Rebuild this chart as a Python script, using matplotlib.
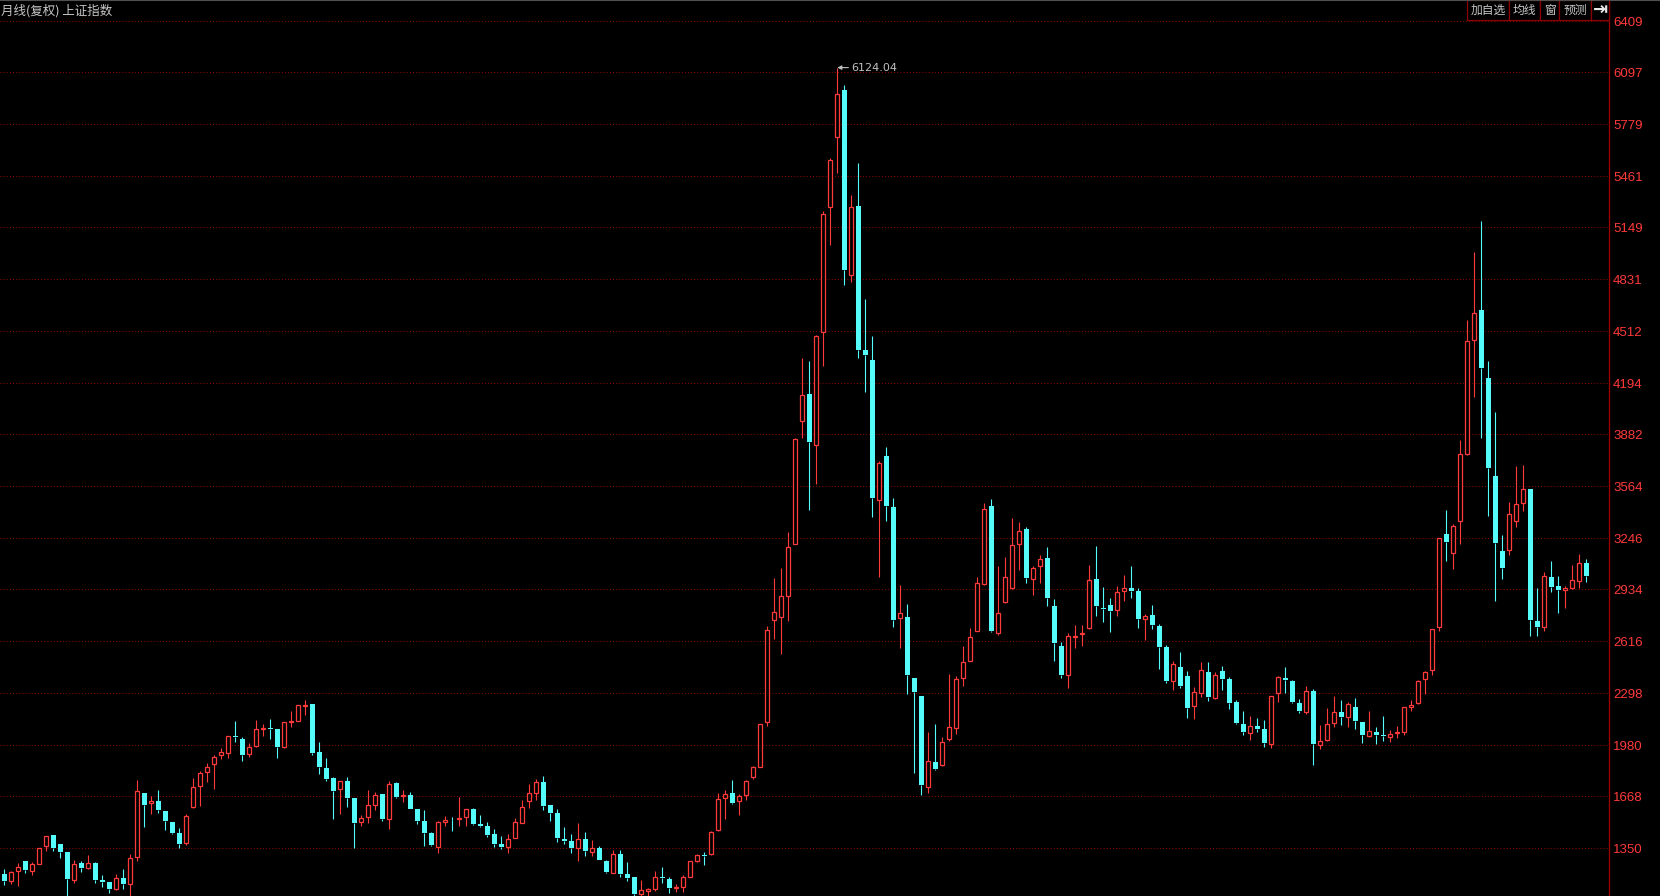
import matplotlib
matplotlib.use("Agg")
import matplotlib.pyplot as plt
from matplotlib.patches import Rectangle
import numpy as np

plt.rcParams['font.family'] = ['Noto Sans CJK SC', 'DejaVu Sans']

# 上证指数 月线, 1997-11 .. 2016-09
opens = [1193, 1152, 1213, 1272, 1213, 1256, 1366, 1431, 1376, 1327,
         1156, 1260, 1231, 1260, 1156, 1144, 1101, 1168, 1134, 1299,
         1688, 1625, 1637, 1578, 1511, 1443, 1384, 1605, 1733, 1815,
         1863, 1918, 1931, 2035, 2016, 1924, 1973, 2082, 2086, 2077,
         1971, 2122, 2130, 2222, 2232, 1939, 1841, 1780, 1711, 1762,
         1657, 1509, 1539, 1613, 1682, 1527, 1749, 1668, 1676, 1590,
         1517, 1443, 1360, 1513, 1525, 1527, 1539, 1590, 1499, 1486,
         1437, 1376, 1360, 1415, 1507, 1641, 1690, 1755, 1613, 1566,
         1407, 1395, 1352, 1407, 1329, 1352, 1272, 1201, 1315, 1193,
         1174, 1072, 1091, 1099, 1174, 1162, 1105, 1111, 1177, 1274,
         1311, 1313, 1460, 1656, 1686, 1637, 1674, 1784, 1849, 2120,
         2746, 2764, 2893, 3211, 3960, 4129, 3817, 4508, 5273, 5701,
         5989, 4857, 5280, 4400, 4339, 3478, 3750, 3437, 2756, 2764,
         2389, 2281, 1727, 1876, 1861, 2020, 2084, 2393, 2497, 2681,
         2964, 3443, 2664, 2854, 2944, 3209, 3301, 2995, 3074, 3123,
         2832, 2587, 2408, 2644, 2658, 2695, 2995, 2822, 2836, 2809,
         2921, 2942, 2923, 2750, 2777, 2709, 2581, 2375, 2459, 2404,
         2222, 2302, 2428, 2271, 2434, 2385, 2245, 2110, 2057, 2098,
         2080, 1990, 2302, 2391, 2373, 2239, 2186, 2312, 1980, 2014,
         2118, 2181, 2155, 2212, 2120, 2035, 2061, 2043, 2033, 2053,
         2063, 2212, 2237, 2383, 2438, 2705, 3272, 3158, 3349, 3763,
         4456, 4642, 4226, 3627, 3168, 3172, 3349, 3459, 3545, 2738,
         2701, 3007, 2952, 2932, 2944, 2987, 3093]
highs = [1223, 1211, 1260, 1274, 1268, 1352, 1427, 1433, 1378, 1329,
         1276, 1272, 1309, 1266, 1187, 1146, 1193, 1223, 1315, 1768,
         1690, 1670, 1706, 1580, 1513, 1472, 1558, 1780, 1821, 1870,
         1918, 1961, 2037, 2126, 2033, 1992, 2132, 2108, 2141, 2077,
         2120, 2188, 2226, 2257, 2234, 2000, 1902, 1786, 1761, 1786,
         1659, 1554, 1706, 1692, 1684, 1762, 1755, 1706, 1692, 1592,
         1584, 1448, 1517, 1547, 1541, 1664, 1590, 1596, 1554, 1511,
         1468, 1425, 1437, 1535, 1645, 1743, 1774, 1792, 1615, 1588,
         1480, 1437, 1505, 1450, 1401, 1364, 1278, 1339, 1339, 1266,
         1176, 1156, 1107, 1211, 1236, 1177, 1132, 1187, 1272, 1315,
         1327, 1454, 1686, 1705, 1768, 1680, 1768, 1853, 2110, 2709,
         3004, 3061, 3286, 3862, 4351, 4328, 4486, 5247, 5573, 6124.04,
         6020, 5348, 5540, 4707, 4484, 3721, 3801, 3492, 2960, 2844,
         2391, 2283, 2061, 2110, 2030, 2416, 2404, 2587, 2697, 3007,
         3461, 3486, 3076, 3131, 3370, 3345, 3313, 3076, 3142, 3192,
         2872, 2610, 2665, 2715, 2715, 3082, 3199, 2948, 2881, 2954,
         3021, 3076, 2942, 2783, 2838, 2720, 2593, 2495, 2550, 2434,
         2336, 2489, 2489, 2428, 2465, 2398, 2255, 2188, 2159, 2147,
         2133, 2281, 2404, 2459, 2379, 2263, 2342, 2324, 2104, 2208,
         2281, 2257, 2243, 2269, 2122, 2188, 2092, 2159, 2071, 2098,
         2214, 2257, 2379, 2434, 2691, 3247, 3419, 3333, 3847, 4581,
         4996, 5186, 4330, 4018, 3266, 3468, 3688, 3694, 3547, 2942,
         3040, 3107, 3015, 2954, 3082, 3150, 3119]
lows = [1128, 1134, 1121, 1199, 1187, 1254, 1335, 1333, 1293, 1043,
        1140, 1205, 1221, 1138, 1115, 1079, 1095, 1101, 1047, 1272,
        1482, 1562, 1568, 1464, 1437, 1354, 1372, 1598, 1611, 1757,
        1711, 1898, 1904, 1998, 1886, 1910, 1971, 2037, 2018, 1904,
        1965, 2094, 2128, 2165, 1920, 1804, 1763, 1531, 1562, 1605,
        1354, 1488, 1507, 1586, 1519, 1470, 1660, 1635, 1590, 1501,
        1366, 1364, 1323, 1488, 1458, 1488, 1488, 1494, 1478, 1421,
        1360, 1348, 1323, 1413, 1505, 1596, 1645, 1584, 1519, 1388,
        1376, 1321, 1272, 1303, 1303, 1276, 1199, 1199, 1174, 1150,
        1050, 998, 1004, 1091, 1140, 1079, 1085, 1085, 1175, 1268,
        1250, 1311, 1458, 1527, 1621, 1556, 1647, 1772, 1847, 2098,
        2632, 2540, 2738, 3209, 3860, 3417, 3576, 4297, 5039, 5479,
        4793, 4814, 4349, 4138, 3375, 3008, 3352, 2705, 2577, 2295,
        1812, 1678, 1690, 1829, 1855, 2004, 2051, 2344, 2495, 2679,
        2962, 2673, 2652, 2848, 2936, 3054, 2974, 2901, 2974, 2834,
        2497, 2393, 2332, 2577, 2589, 2693, 2771, 2736, 2675, 2773,
        2864, 2883, 2699, 2626, 2689, 2448, 2363, 2320, 2332, 2149,
        2143, 2277, 2253, 2265, 2320, 2204, 2112, 2045, 2014, 2063,
        1971, 1965, 2247, 2300, 2239, 2179, 2173, 1861, 1959, 2008,
        2094, 2106, 2094, 2082, 1996, 2029, 1990, 2008, 2002, 2027,
        2045, 2192, 2230, 2296, 2412, 2681, 3109, 3060, 3213, 3757,
        4112, 3859, 3384, 2864, 2999, 3146, 3317, 3415, 2650, 2650,
        2681, 2919, 2791, 2821, 2938, 2944, 2980]
closes = [1150, 1203, 1234, 1217, 1254, 1350, 1425, 1354, 1329, 1162,
          1254, 1231, 1260, 1156, 1144, 1101, 1168, 1132, 1289, 1698,
          1617, 1637, 1586, 1519, 1446, 1378, 1547, 1723, 1808, 1845,
          1906, 1937, 2035, 2031, 1922, 1967, 2077, 2086, 2082, 1971,
          2120, 2126, 2224, 2226, 1935, 1849, 1776, 1702, 1759, 1660,
          1507, 1533, 1613, 1674, 1531, 1741, 1666, 1674, 1592, 1519,
          1446, 1372, 1511, 1523, 1521, 1535, 1588, 1501, 1486, 1433,
          1378, 1360, 1405, 1509, 1600, 1686, 1753, 1609, 1566, 1413,
          1395, 1352, 1405, 1333, 1350, 1278, 1205, 1315, 1193, 1168,
          1072, 1095, 1099, 1174, 1166, 1109, 1111, 1172, 1270, 1307,
          1305, 1448, 1649, 1680, 1629, 1670, 1760, 1845, 2108, 2685,
          2794, 2893, 3192, 3855, 4122, 3834, 4484, 5229, 5559, 5964,
          4885, 5273, 4395, 4365, 3490, 3707, 3446, 2748, 2787, 2412,
          2308, 1739, 1882, 1835, 1998, 2090, 2383, 2487, 2640, 2970,
          3423, 2681, 2787, 3007, 3203, 3288, 3005, 3062, 3117, 2883,
          2608, 2412, 2648, 2650, 2667, 2989, 2834, 2815, 2803, 2915,
          2940, 2925, 2754, 2771, 2718, 2583, 2375, 2477, 2345, 2210,
          2306, 2440, 2277, 2408, 2387, 2241, 2118, 2063, 2096, 2082,
          1996, 2279, 2398, 2381, 2245, 2192, 2310, 1990, 2004, 2110,
          2181, 2153, 2230, 2130, 2045, 2065, 2045, 2039, 2049, 2061,
          2212, 2226, 2373, 2426, 2689, 3245, 3225, 3321, 3759, 4450,
          4621, 4289, 3678, 3219, 3066, 3392, 3453, 3545, 2748, 2701,
          3013, 2950, 2932, 2940, 2989, 3093, 3017]

price_ticks = [6409, 6097, 5779, 5461, 5149, 4831, 4512, 4194, 3882, 3564,
               3246, 2934, 2616, 2298, 1980, 1668, 1350]
title = '月线(复权) 上证指数'
buttons = ['加自选', '均线', '窗', '预测']

RED = '#ff3a3a'
CYAN = '#54fcfc'
GRID = '#8a0000'
GREY = '#c8c8c8'

W, H = 1660, 896
fig = plt.figure(figsize=(W / 100, H / 100), dpi=100, facecolor='black')
axis_x = 1609
ax = fig.add_axes([0, 0, axis_x / W, 1])
ax.set_facecolor('black')

o = np.array(opens, dtype=float)
h = np.array(highs, dtype=float)
l = np.array(lows, dtype=float)
c = np.array(closes, dtype=float)
x = np.arange(len(o))
up = c >= o
colors = np.where(up, RED, CYAN)
top = np.maximum(o, c)
bot = np.minimum(o, c)
body = np.maximum(top - bot, 4)

ax.vlines(x, top, h, colors=colors, lw=0.8)
ax.vlines(x, l, bot, colors=colors, lw=0.8)
ax.bar(x[up], body[up], bottom=bot[up], width=0.62, facecolor='black',
       edgecolor=RED, linewidth=0.9, zorder=3)
ax.bar(x[~up], body[~up], bottom=bot[~up], width=0.72, color=CYAN,
       linewidth=0, zorder=3)

# peak label
imax = int(np.argmax(h))
ax.annotate(f'{h[imax]:.2f}', xy=(imax, h[imax]), xytext=(10, 0),
            textcoords='offset points', ha='left', va='center',
            color='#c0c0c0', fontsize=8, family='DejaVu Sans',
            arrowprops=dict(arrowstyle='-|>', color='#c0c0c0', lw=0.8,
                            mutation_scale=6, shrinkA=0, shrinkB=0))

# y scale: 6409 at px 21, bottom edge ~1058
per_px = (6409 - 1350) / 827.3
ax.set_ylim(6409 - (H - 21) * per_px, 6409 + 21 * per_px)
ax.set_xlim((0 - 4.3) / 7, (axis_x - 4.3) / 7)

ax.set_yticks(price_ticks)
ax.set_yticklabels([str(t) for t in price_ticks])
ax.yaxis.tick_right()
ax.tick_params(axis='y', length=0, pad=3, labelcolor=RED, labelsize=9.5)
for lab in ax.get_yticklabels():
    lab.set_family('Liberation Sans')
ax.set_xticks([])
ax.grid(axis='y', color=GRID, linestyle=(0, (1, 2)), linewidth=0.75)
ax.set_axisbelow(True)
for s in ['left', 'top', 'bottom']:
    ax.spines[s].set_visible(False)
ax.spines['right'].set_color('#a00000')
ax.spines['right'].set_linewidth(0.9)

# header
fig.text(1 / W, 1 - 11 / H, title, color=GREY, fontsize=9, va='center', ha='left')
fig.add_artist(plt.Line2D([0, 1], [1 - 0.5 / H, 1 - 0.5 / H], color='#505050', lw=0.8))

edges = [1467, 1509, 1540, 1559, 1591, 1609]
for k in range(len(edges) - 1):
    x0, x1 = edges[k], edges[k + 1]
    fig.add_artist(Rectangle((x0 / W, 1 - 20 / H), (x1 - x0) / W, 20 / H,
                             transform=fig.transFigure, facecolor='black',
                             edgecolor='#8b0000', linewidth=0.9))
    if k < len(buttons):
        fig.text((x0 + x1) / 2 / W, 1 - 10.5 / H, buttons[k], color=GREY,
                 fontsize=8.5, ha='center', va='center')
    else:
        fig.text((x0 + x1) / 2 / W, 1 - 10 / H, '⇥', color='#e8e8e8',
                 fontsize=13, ha='center', va='center', family='DejaVu Sans',
                 fontweight='bold')

fig.savefig('out.png', dpi=100, facecolor='black')
